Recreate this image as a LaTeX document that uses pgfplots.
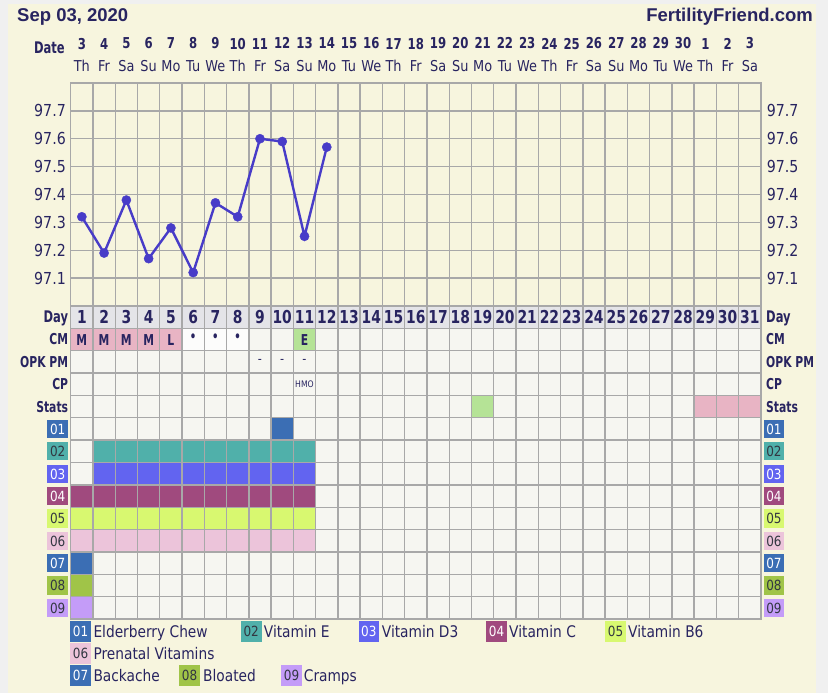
\documentclass[border=0pt]{standalone}
\usepackage{fontspec}
\usepackage{pgfplots}
\pgfplotsset{compat=1.18}
\setmainfont{DejaVu Sans}
\newfontfamily\rf[FakeStretch=0.86]{DejaVu Sans}
\newfontfamily\bnum[FakeStretch=0.78]{DejaVu Sans}
\newfontfamily\blab[FakeStretch=0.72]{DejaVu Sans}
\newfontfamily\titlef{Liberation Sans}
\definecolor{outer}{RGB}{240,240,240}
\definecolor{cream}{RGB}{247,245,222}
\definecolor{cellbg}{RGB}{246,246,241}
\definecolor{daygray}{RGB}{228,228,232}
\definecolor{gridc}{RGB}{168,168,168}
\definecolor{navy}{RGB}{40,36,96}
\definecolor{linec}{RGB}{72,60,200}
\definecolor{cA}{RGB}{59,110,180}
\definecolor{cB}{RGB}{80,176,170}
\definecolor{cC}{RGB}{98,100,240}
\definecolor{cD}{RGB}{160,74,126}
\definecolor{cE}{RGB}{216,248,112}
\definecolor{cF}{RGB}{236,196,218}
\definecolor{cG}{RGB}{160,196,72}
\definecolor{cH}{RGB}{196,156,248}
\definecolor{cmpink}{RGB}{232,180,196}
\definecolor{cmgreen}{RGB}{181,227,150}
\definecolor{darktxt}{RGB}{50,55,65}
\newcommand\fsz[1]{\fontsize{#1}{#1}\selectfont}
\newcommand\rl[1]{{\blab\bfseries #1}}
\newcommand\sbadge[3]{{\setlength{\fboxsep}{0pt}\colorbox{#1}{\makebox[20.7pt]{\rule[-3.7pt]{0pt}{18.3pt}\textcolor{#2}{\rf\mdseries\fsz{14}#3}}}}}
\newcommand\dl[2]{{\bnum\bfseries #1}\\#2}
\tikzset{lbadge/.style={minimum width=20.7pt, minimum height=20.7pt, inner sep=0pt, font=\rf\fsz{14}, anchor=west},
 ltxt/.style={anchor=base west, inner sep=0pt, text=navy, font=\rf\fsz{16}}}
\pgfplotsset{gridset/.style={
  major grid style={draw=gridc, line width=1.4pt},
  minor grid style={draw=gridc, line width=1.4pt},
  axis line style={draw=gridc, line width=1.4pt},
  major tick length=0pt, minor tick length=0pt}}
\begin{document}
\begin{tikzpicture}
\fill[outer] (0,0) rectangle (828pt,-693pt);
\fill[cream] (8pt,-4pt) rectangle (816pt,-693pt);
\node[anchor=base west, text=navy, font=\titlef\bfseries\fsz{18.5}, inner sep=0pt] at (17pt,-21.7pt) {Sep 03, 2020};
\node[anchor=base east, text=navy, font=\titlef\bfseries\fsz{18.5}, inner sep=0pt] at (813pt,-21.7pt) {FertilityFriend.com};
\node[anchor=base east, text=navy, font=\blab\bfseries\fsz{16}, inner sep=0pt] at (65pt,-54pt) {Date};

% ---------- temperature axis ----------
\begin{axis}[
  gridset,
  at={(70.7pt,-306pt)}, anchor=south west,
  scale only axis, width=690.3pt, height=223pt,
  xmin=0.5, xmax=31.5, ymin=97.0, ymax=97.8,
  axis background/.style={fill=cream},
  xtick={0.5,1.5,...,31.5}, xticklabels={}, xmajorgrids,
  xticklabel pos=upper,
  extra x ticks={1,2,...,31},
  extra x tick labels={\dl{3}{Th},\dl{4}{Fr},\dl{5}{Sa},\dl{6}{Su},\dl{7}{Mo},\dl{8}{Tu},\dl{9}{We},\dl{10}{Th},\dl{11}{Fr},\dl{12}{Sa},\dl{13}{Su},\dl{14}{Mo},\dl{15}{Tu},\dl{16}{We},\dl{17}{Th},\dl{18}{Fr},\dl{19}{Sa},\dl{20}{Su},\dl{21}{Mo},\dl{22}{Tu},\dl{23}{We},\dl{24}{Th},\dl{25}{Fr},\dl{26}{Sa},\dl{27}{Su},\dl{28}{Mo},\dl{29}{Tu},\dl{30}{We},\dl{1}{Th},\dl{2}{Fr},\dl{3}{Sa}},
  extra x tick style={grid=none, major tick length=0pt},
  xticklabel style={anchor=south, inner sep=0pt, yshift=11.3pt, align=center, text=navy, font=\rf\fontsize{15}{22.4}\selectfont},
  ytick={97.1,97.2,97.3,97.4,97.5,97.6,97.7}, ymajorgrids,
  yticklabel style={font=\rf\fsz{16.5}, text=navy, inner sep=0pt, xshift=-4.7pt,
    /pgf/number format/.cd, fixed, fixed zerofill, precision=1, assume math mode=true},
]
\addplot[color=linec, line width=2.4pt, mark=*, mark size=4.6pt,
  mark options={solid, fill=linec, draw=linec, line width=0.4pt}]
  coordinates {(1,97.32)(2,97.19)(3,97.38)(4,97.17)(5,97.28)(6,97.12)
               (7,97.37)(8,97.32)(9,97.60)(10,97.59)(11,97.25)(12,97.57)};
\end{axis}
% right-hand temperature labels
\begin{axis}[
  at={(70.7pt,-306pt)}, anchor=south west,
  scale only axis, width=690.3pt, height=223pt,
  xmin=0.5, xmax=31.5, ymin=97.0, ymax=97.8,
  xtick=\empty, yticklabel pos=right,
  ytick={97.1,97.2,97.3,97.4,97.5,97.6,97.7},
  axis line style={draw=none}, major tick length=0pt, tick style={draw=none},
  yticklabel style={font=\rf\fsz{16.5}, text=navy, inner sep=0pt, xshift=5.7pt,
    /pgf/number format/.cd, fixed, fixed zerofill, precision=1, assume math mode=true},
]
\end{axis}

% ---------- chart table ----------
\begin{axis}[
  gridset,
  at={(70.7pt,-306pt)}, anchor=north west,
  scale only axis, width=690.3pt, height=313pt,
  xmin=0.5, xmax=31.5, ymin=0, ymax=14, y dir=reverse, clip=false,
  axis background/.style={fill=cellbg},
  axis on top,
  xtick={1.5,2.5,...,30.5}, xticklabels={}, xmajorgrids,
  ytick={1,2,...,13}, yticklabels={}, ymajorgrids,
  extra y ticks={0.5,1.5,2.5,3.5,4.5,5.5,6.5,7.5,8.5,9.5,10.5,11.5,12.5,13.5},
  extra y tick style={grid=none, major tick length=0pt},
  extra y tick labels={{\fsz{16}\rl{Day}\hspace{2pt}},{\rl{CM}\hspace{2pt}},{\rl{OPK PM}\hspace{2pt}},{\rl{CP}\hspace{2pt}},{\rl{Stats}\hspace{2pt}},
    {\sbadge{cA}{white}{01}},{\sbadge{cB}{darktxt}{02}},{\sbadge{cC}{white}{03}},{\sbadge{cD}{white}{04}},{\sbadge{cE}{darktxt}{05}},
    {\sbadge{cF}{darktxt}{06}},{\sbadge{cA}{white}{07}},{\sbadge{cG}{darktxt}{08}},{\sbadge{cH}{darktxt}{09}}},
  yticklabel style={font=\fsz{15}, text=navy, inner sep=0pt, xshift=-2.4pt, text height=10.9pt, text depth=0pt},
]
% Day row
\addplot[fill=daygray, draw=none] coordinates {(0.5,0)(31.5,0)(31.5,1)(0.5,1)} -- cycle;
% CM row
\addplot[fill=cmpink, draw=none] coordinates {(0.5,1)(5.5,1)(5.5,2)(0.5,2)} -- cycle;
\addplot[fill=white!70!cellbg, draw=none] coordinates {(5.5,1)(8.5,1)(8.5,2)(5.5,2)} -- cycle;
\addplot[fill=cmgreen, draw=none] coordinates {(10.5,1)(11.5,1)(11.5,2)(10.5,2)} -- cycle;
% Stats row
\addplot[fill=cmgreen, draw=none] coordinates {(18.5,4)(19.5,4)(19.5,5)(18.5,5)} -- cycle;
\addplot[fill=cmpink, draw=none] coordinates {(28.5,4)(31.5,4)(31.5,5)(28.5,5)} -- cycle;
% 01 .. 09
\addplot[fill=cA, draw=none] coordinates {(9.5,5)(10.5,5)(10.5,6)(9.5,6)} -- cycle;
\addplot[fill=cB, draw=none] coordinates {(1.5,6)(11.5,6)(11.5,7)(1.5,7)} -- cycle;
\addplot[fill=cC, draw=none] coordinates {(1.5,7)(11.5,7)(11.5,8)(1.5,8)} -- cycle;
\addplot[fill=cD, draw=none] coordinates {(0.5,8)(11.5,8)(11.5,9)(0.5,9)} -- cycle;
\addplot[fill=cE, draw=none] coordinates {(0.5,9)(11.5,9)(11.5,10)(0.5,10)} -- cycle;
\addplot[fill=cF, draw=none] coordinates {(0.5,10)(11.5,10)(11.5,11)(0.5,11)} -- cycle;
\addplot[fill=cA, draw=none] coordinates {(0.5,11)(1.5,11)(1.5,12)(0.5,12)} -- cycle;
\addplot[fill=cG, draw=none] coordinates {(0.5,12)(1.5,12)(1.5,13)(0.5,13)} -- cycle;
\addplot[fill=cH, draw=none] coordinates {(0.5,13)(1.5,13)(1.5,14)(0.5,14)} -- cycle;
% Day numbers
\addplot[draw=none, nodes near coords, point meta=explicit symbolic,
  every node near coord/.append style={anchor=center, inner sep=0pt, text=navy, font=\bnum\bfseries\fsz{17.8}}]
  table[meta=t] {
x y t
1 0.5 1
2 0.5 2
3 0.5 3
4 0.5 4
5 0.5 5
6 0.5 6
7 0.5 7
8 0.5 8
9 0.5 9
10 0.5 10
11 0.5 11
12 0.5 12
13 0.5 13
14 0.5 14
15 0.5 15
16 0.5 16
17 0.5 17
18 0.5 18
19 0.5 19
20 0.5 20
21 0.5 21
22 0.5 22
23 0.5 23
24 0.5 24
25 0.5 25
26 0.5 26
27 0.5 27
28 0.5 28
29 0.5 29
30 0.5 30
31 0.5 31
};
% CM letters
\addplot[draw=none, nodes near coords, point meta=explicit symbolic,
  every node near coord/.append style={anchor=center, inner sep=0pt, text=navy, font=\blab\bfseries\fsz{15}}]
  table[meta=t] {
x y t
1 1.5 M
2 1.5 M
3 1.5 M
4 1.5 M
5 1.5 L
11 1.5 E
};
% CM dots
\addplot[draw=none, nodes near coords, point meta=explicit symbolic,
  every node near coord/.append style={anchor=center, inner sep=0pt, yshift=2pt, text=navy, font=\blab\bfseries\fsz{14}}]
  table[meta=t] {
x y t
6 1.5 •
7 1.5 •
8 1.5 •
};
% OPK PM dashes
\addplot[draw=none, nodes near coords, point meta=explicit symbolic,
  every node near coord/.append style={anchor=center, inner sep=0pt, text=navy, font=\rf\fsz{13}}]
  table[meta=t] {
x y t
9 2.5 -
10 2.5 -
11 2.5 -
};
% CP
\addplot[draw=none, nodes near coords, point meta=explicit symbolic,
  every node near coord/.append style={anchor=center, inner sep=0pt, text=navy, font=\rf\fsz{9}}]
  table[meta=t] {
x y t
11 3.5 HMO
};
\end{axis}
% right-hand table labels
\begin{axis}[
  at={(70.7pt,-306pt)}, anchor=north west,
  scale only axis, width=690.3pt, height=313pt,
  xmin=0.5, xmax=31.5, ymin=0, ymax=14, y dir=reverse,
  xtick=\empty, yticklabel pos=right,
  ytick={0.5,1.5,2.5,3.5,4.5,5.5,6.5,7.5,8.5,9.5,10.5,11.5,12.5,13.5},
  axis line style={draw=none}, major tick length=0pt, tick style={draw=none},
  yticklabels={{\hspace{2.6pt}\fsz{16}\rl{Day}},{\hspace{2.6pt}\rl{CM}},{\hspace{2.6pt}\rl{OPK PM}},{\hspace{2.6pt}\rl{CP}},{\hspace{2.6pt}\rl{Stats}},
    {\sbadge{cA}{white}{01}},{\sbadge{cB}{darktxt}{02}},{\sbadge{cC}{white}{03}},{\sbadge{cD}{white}{04}},{\sbadge{cE}{darktxt}{05}},
    {\sbadge{cF}{darktxt}{06}},{\sbadge{cA}{white}{07}},{\sbadge{cG}{darktxt}{08}},{\sbadge{cH}{darktxt}{09}}},
  yticklabel style={font=\fsz{15}, text=navy, inner sep=0pt, xshift=2.4pt, text height=10.9pt, text depth=0pt},
]
\end{axis}

% ---------- legend ----------
\node[lbadge, fill=cA, text=white] at (70pt,-631.3pt) {01};
\node[ltxt] at (93.3pt,-637pt) {Elderberry Chew};
\node[lbadge, fill=cB, text=darktxt] at (240.7pt,-631.3pt) {02};
\node[ltxt] at (263.7pt,-637pt) {Vitamin E};
\node[lbadge, fill=cC, text=white] at (358.3pt,-631.3pt) {03};
\node[ltxt] at (381.7pt,-637pt) {Vitamin D3};
\node[lbadge, fill=cD, text=white] at (486pt,-631.3pt) {04};
\node[ltxt] at (509pt,-637pt) {Vitamin C};
\node[lbadge, fill=cE, text=darktxt] at (605pt,-631.3pt) {05};
\node[ltxt] at (628pt,-637pt) {Vitamin B6};
\node[lbadge, fill=cF, text=darktxt] at (70pt,-653.3pt) {06};
\node[ltxt] at (93.3pt,-659pt) {Prenatal Vitamins};
\node[lbadge, fill=cA, text=white] at (70pt,-675.5pt) {07};
\node[ltxt] at (93.3pt,-681.3pt) {Backache};
\node[lbadge, fill=cG, text=darktxt] at (179pt,-675.5pt) {08};
\node[ltxt] at (203pt,-681.3pt) {Bloated};
\node[lbadge, fill=cH, text=darktxt] at (281pt,-675.5pt) {09};
\node[ltxt] at (303.7pt,-681.3pt) {Cramps};
\end{tikzpicture}
\end{document}
